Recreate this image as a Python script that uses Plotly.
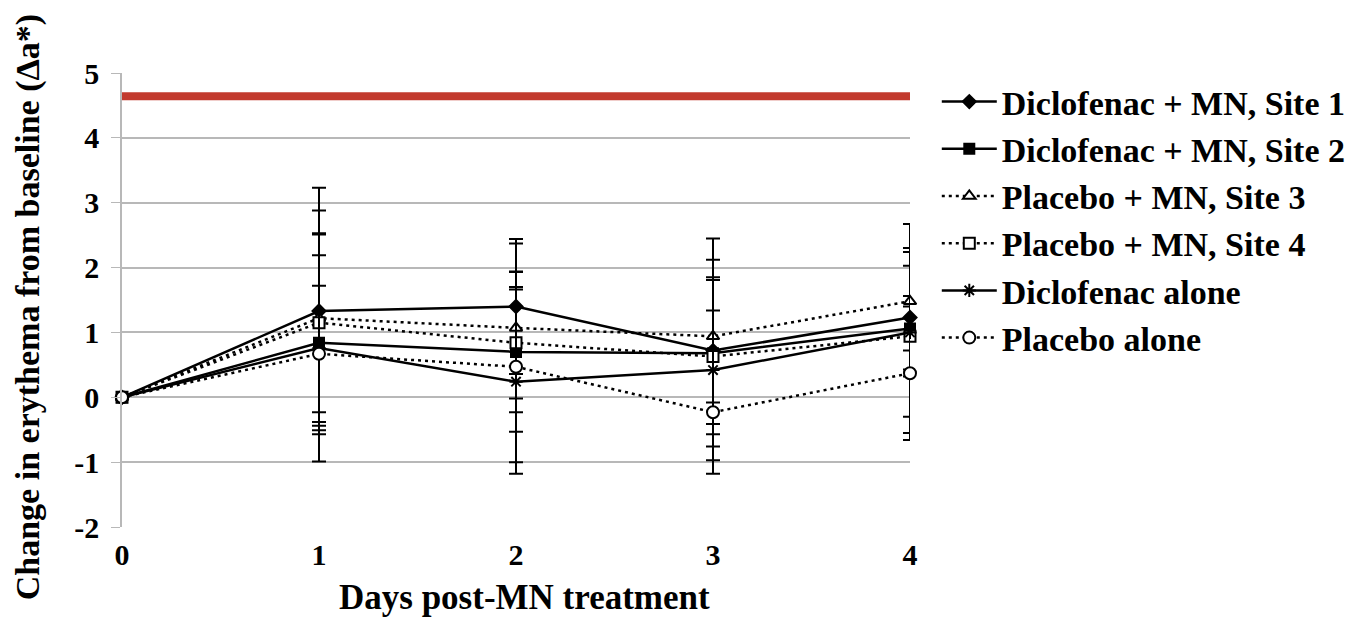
import plotly.graph_objects as go

days = [0, 1, 2, 3, 4]
tick_labels = ["0", "1", "2", "3", "4"]
y_ticks = [-2, -1, 0, 1, 2, 3, 4, 5]

series_names = [
    "Diclofenac + MN, Site 1",
    "Diclofenac + MN, Site 2",
    "Placebo + MN, Site 3",
    "Placebo + MN, Site 4",
    "Diclofenac alone",
    "Placebo alone",
]
site1 = [0, 1.33, 1.40, 0.72, 1.23]
site1_err = [0, 1.90, 1.04, 1.13, 0.80]
site2 = [0, 0.84, 0.70, 0.68, 1.06]
site2_err = [0, 1.35, 1.23, 1.44, 1.61]
site3 = [0, 1.22, 1.07, 0.94, 1.48]
site3_err = [0, 1.66, 1.30, 1.51, 0.76]
site4 = [0, 1.15, 0.84, 0.63, 0.94]
site4_err = [0, 1.38, 0.86, 0.71, 0.62]
dic_alone = [0, 0.76, 0.24, 0.42, 1.00]
dic_alone_err = [0, 1.75, 1.42, 1.39, 1.30]
plac_alone = [0, 0.67, 0.47, -0.23, 0.37]
plac_alone_err = [0, 1.05, 1.47, 0.95, 1.03]

threshold = 4.64

x_title = "Days post-MN treatment"
y_title = "Change in erythema from baseline (Δa*)"

values = [site1, site2, site3, site4, dic_alone, plac_alone]
errors = [site1_err, site2_err, site3_err, site4_err, dic_alone_err, plac_alone_err]
styles = [
    dict(dash="solid", symbol="diamond", fill="black", size=10),
    dict(dash="solid", symbol="square", fill="black", size=10),
    dict(dash="3px,4px", symbol="triangle-up", fill="white", size=11),
    dict(dash="3px,4px", symbol="square", fill="white", size=11),
    dict(dash="solid", symbol="asterisk-open", fill="black", size=11),
    dict(dash="3px,4px", symbol="circle", fill="white", size=12),
]

fig = go.Figure()

fig.add_trace(go.Scatter(
    x=[days[0], days[-1]], y=[threshold, threshold], mode="lines",
    line=dict(color="#c23a2e", width=8), showlegend=False, hoverinfo="skip",
))

for name, vals, errs, st in zip(series_names, values, errors, styles):
    fig.add_trace(go.Scatter(
        x=days, y=vals, name="<b>%s</b>" % name, legendgroup=name, mode="lines+markers",
        line=dict(color="black", width=2.5, dash=st["dash"]),
        marker=dict(symbol=st["symbol"], size=st["size"], color=st["fill"],
                    line=dict(color="black", width=2)),
        error_y=dict(type="data", array=errs, visible=True, color="black",
                     thickness=2, width=7),
        cliponaxis=False,
    ))

font_family = "Liberation Serif"
# page body adds an 8px margin at top/left; size and margins compensate for it
fig.update_layout(
    width=1351, height=610,
    margin=dict(l=114, r=449, t=65, b=91, autoexpand=False),
    plot_bgcolor="white", paper_bgcolor="white",
    font=dict(family=font_family, color="black"),
    xaxis=dict(
        range=[0, 4], tickvals=days, ticktext=["<b>%s</b>" % t for t in tick_labels],
        showgrid=False, zeroline=False, showline=False, automargin=False,
        ticks="", tickfont=dict(size=30, family=font_family), ticklabelstandoff=7,
    ),
    yaxis=dict(
        range=[-2, 5], tickvals=y_ticks,
        ticktext=["<b>%d</b>" % v for v in y_ticks],
        showgrid=True, gridcolor="#b8b8b8", gridwidth=1.5, zeroline=False,
        showline=True, linecolor="#b8b8b8", linewidth=1.5, automargin=False,
        ticks="outside", ticklen=9, tickcolor="#b8b8b8", ticklabelstandoff=6,
        tickfont=dict(size=30, family=font_family),
    ),
    legend=dict(
        x=1.034, y=1.0, xanchor="left", yanchor="top",
        font=dict(size=34, family=font_family, color="black"),
        tracegroupgap=0, itemwidth=55, bgcolor="rgba(0,0,0,0)",
    ),
    annotations=[
        dict(text="<b>%s</b>" % x_title, xref="paper", yref="paper",
             x=0.5114, y=-0.156, xanchor="center", yanchor="middle",
             showarrow=False, font=dict(size=35, family=font_family, color="black")),
        dict(text="<b>%s</b>" % y_title, xref="paper", yref="paper",
             x=-0.12, y=0.485, xanchor="center", yanchor="middle", textangle=-90,
             showarrow=False, font=dict(size=34, family=font_family, color="black")),
    ],
)

fig.write_html("out.html")
